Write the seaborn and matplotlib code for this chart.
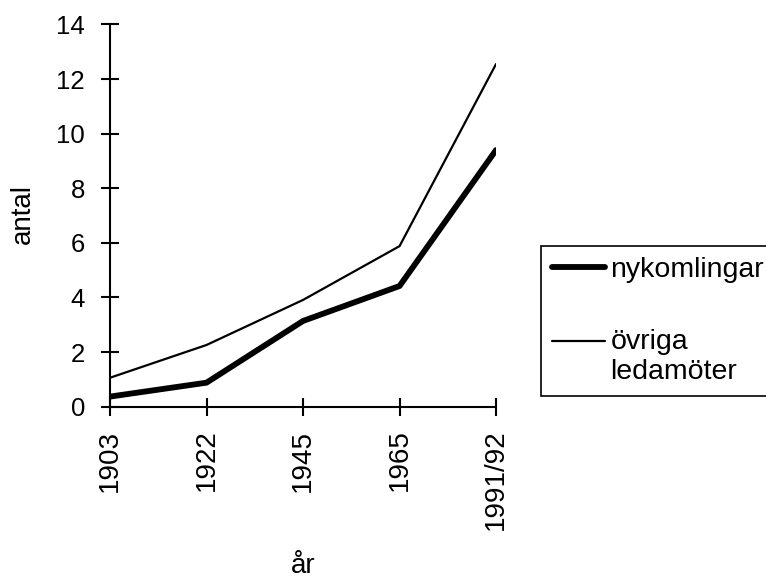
import numpy as np
import pandas as pd
import matplotlib
matplotlib.use("Agg")
import matplotlib.pyplot as plt
import seaborn as sns
from matplotlib.legend_handler import HandlerLine2D

## datos
years = ["1903", "1922", "1945", "1965", "1991/92"]
nykomlingar = [0.37, 0.88, 3.14, 4.42, 9.4]
ovriga = [1.06, 2.26, 3.91, 5.88, 12.55]
series_names = ["nykomlingar", "övriga\nledamöter"]

df = pd.DataFrame({
    "år": years * 2,
    "antal": nykomlingar + ovriga,
    "grupp": [series_names[0]] * len(years) + [series_names[1]] * len(years),
})


# la linea de la leyenda va alineada con la primera fila del texto
class TopLine(HandlerLine2D):
    def create_artists(self, legend, orig_handle, xdescent, ydescent,
                       width, height, fontsize, trans):
        arts = super().create_artists(legend, orig_handle, xdescent, ydescent,
                                      width, height, fontsize, trans)
        for a in arts:
            a.set_ydata(np.asarray(a.get_ydata()) + fontsize * 0.55)
        return arts


sns.set_style("white")
plt.rcParams["font.family"] = ["Liberation Sans", "DejaVu Sans"]
plt.rcParams["text.color"] = "black"
plt.rcParams["axes.labelcolor"] = "black"

fig = plt.figure(figsize=(7.66, 5.81), dpi=100)
ax = fig.add_axes([0.1436, 0.30, 0.504, 0.658])

sns.lineplot(data=df, x="år", y="antal", hue="grupp", size="grupp",
             sizes={series_names[0]: 4.2, series_names[1]: 1.6},
             palette={series_names[0]: "black", series_names[1]: "black"},
             sort=False, ax=ax)

ax.set_xlim(0, 4)
ax.set_ylim(0, 14)
ax.set_yticks(np.arange(0, 15, 2))
ax.set_xticks(range(len(years)))
ax.set_xticklabels(years, rotation=90)

for s in ["top", "right"]:
    ax.spines[s].set_visible(False)
for s in ["left", "bottom"]:
    ax.spines[s].set_color("black")
    ax.spines[s].set_linewidth(1.5)

ax.tick_params(axis="both", direction="inout", length=13, width=1.5,
               color="black", labelcolor="black", left=True, bottom=True)
ax.tick_params(axis="y", pad=11.5, labelsize=18.5)
ax.tick_params(axis="x", pad=10, labelsize=20)

ax.set_ylabel("antal", fontsize=20, color="black")
ax.set_xlabel("år", fontsize=20, color="black")
ax.yaxis.set_label_coords(-0.192, 0.505)
ax.xaxis.set_label_coords(0.5, -0.382)

handles, labels = ax.get_legend_handles_labels()
leg = ax.legend(handles, labels, loc="upper left", bbox_to_anchor=(0.706, 0.577),
                bbox_transform=fig.transFigure, fontsize=20.5, frameon=True,
                fancybox=False, edgecolor="black", framealpha=1,
                handlelength=1.85, handletextpad=0.2, labelspacing=1.6,
                borderpad=0.4, borderaxespad=0,
                handler_map={handles[1]: TopLine()})
leg.get_frame().set_linewidth(1.2)
for t in leg.get_texts():
    t.set_color("black")

fig.savefig("out.png", dpi=100)
